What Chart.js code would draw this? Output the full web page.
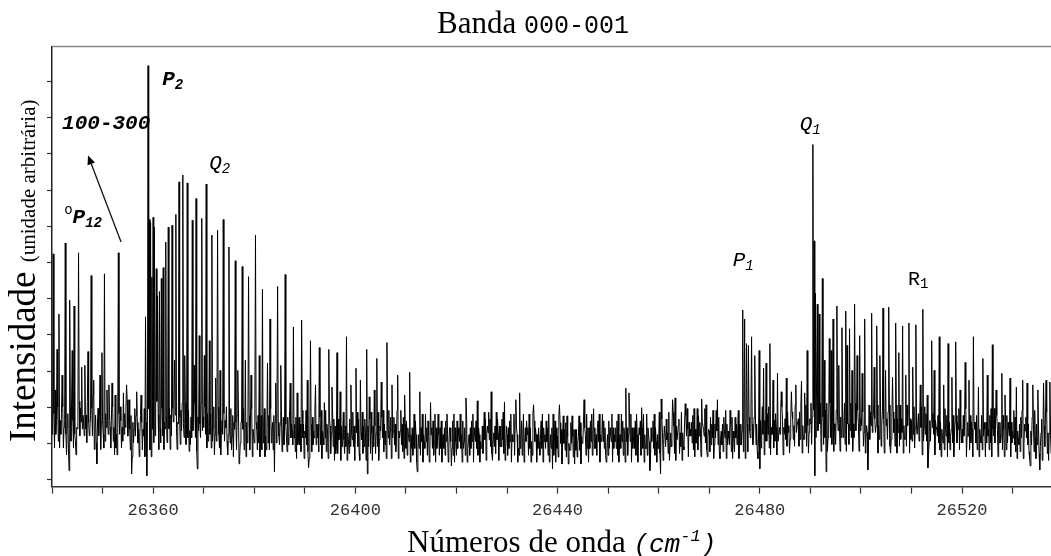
<!DOCTYPE html>
<html lang="pt">
<head>
<meta charset="UTF-8">
<title>Banda 000-001</title>
<script src="https://cdn.jsdelivr.net/npm/chart.js@4"></script>
<style>
  body { margin: 0; background: #fff; }
  #wrap { width: 1051px; height: 556px; }
</style>
</head>
<body>
<div id="wrap"><canvas id="spec" width="1051" height="556"></canvas></div>
<script>
// grade do espectro (cm-1)
const X0 = 26340;
const STEP = 0.125;
const X_MAX = 26537.6;

// ruido em torno da linha de base, um digito por ponto da grade (0..9)
const noiseDigits = [
  '4637254618 3526473825 6341572648 3956274315 4628375146',
  '5374628153 4627395146 2857364153 6428375164 3752648351',
  '6241537486 2536475819 4635274163 5847263514 7362548136',
  '3548627145 6273548361 5426738154 3625847163 4758362415',
  '5362748153 4825637142 6354728361 2647538146 5384627351',
  '4726358147 3658427156 4273658314 6538247165 3627485136',
  '6358247163 5472638154 3846527361 4725368142 5637248356',
  '2746538164 3658247351 6427358146 5384627153 4736258461',
  '5483627145 6273548136 4625738154 3748265137 6254837162',
  '3627458163 5842637154 2736548361 6458372145 4826375164',
  '6347285163 4625738146 5374826351 2648357164 5736248315',
  '4583627146 3726548153 6248375163 5372648154 3846275136',
  '5637248163 4852637145 3627485136 6453728164 2736548351',
  '7346258134 5263748165 4738265143 3625847156 5847362145',
  '3628475163 6374825136 5263748154 4827365132 6347258146',
  '4756283614 2837465153 6425738164 5374628135 3658247163',
  '5283746158 4637285143 3748526163 6245837154 4736528361',
  '6374825136 3526748154 5847362135 2736548163 5463728145',
  '3847265134 6253748163 4637285146 5724638153 3826547164',
  '5738264153 4826375146 6374528135 3548627164 4672538153',
  '2637485164 5463728153 3827465136 6548372145 5273648136',
  '4856372145 3627548163 5438627154 2746358163 6358247135',
  '6237548163 4758362145 3625847163 5374826154 4826375163',
  '3547286154 6382745136 4763528145 5627384153 3748265146',
  '5826374153 3647258164 6253748135 4837265154 2736485163',
  '4635827145 5274836153 3846275164 6537248135 4628375146',
  '7364528153 4825736145 5637482136 3746258164 5283647153',
  '3628574163 6374825154 4736258143 5847362136 3625748165',
  '5473826154 3628547163 6245837146 4736582153 5374628146',
  '4827365136 5637248154 3728465163 6452738145 4836275163',
  '6348275146 2736548163 5483726154 3627485136 5748362145',
  '3756284163 4628357146 6374825153 5283647164 4637258135'
].join('').replace(/ /g, '');

// nivel da linha de base, por blocos de 5 cm-1 a partir de X0
const baseline = [
  1.35, 1.5, 1.35, 1.3, 1.5, 1.45, 1.35, 1.3, 1.3, 1.25,
  1.25, 1.2, 1.2, 1.25, 1.15, 1.15, 1.15, 1.2, 1.15, 1.15,
  1.1, 1.15, 1.15, 1.15, 1.2, 1.3, 1.25, 1.25, 1.35, 1.4,
  1.45, 1.45, 1.4, 1.4, 1.35, 1.3, 1.3, 1.3, 1.25, 1.2, 1.2
];

// linhas do espectro: posicao (cm-1) e intensidade
const linePos = [
  // oP12
  26340.2, 26340.6, 26341.05, 26341.4, 26342.0, 26342.6, 26343.5, 26344.0, 26344.4, 26345.2,
  26345.9, 26346.5, 26347.1, 26347.7, 26348.3, 26348.9, 26349.5, 26349.9, 26350.4, 26350.9,
  26351.3, 26351.9, 26352.5, 26353.1, 26354.1, 26354.7, 26355.2, 26355.8, 26356.8, 26357.6,
  26358.2, 26358.5,
  // P2 / Q2
  26359.0, 26359.25, 26359.5, 26359.75, 26360.0, 26360.25, 26360.6, 26360.9, 26361.2, 26361.6,
  26362.0, 26362.5, 26363.0, 26363.7, 26364.2, 26364.5, 26365.1, 26365.9, 26366.3, 26366.7,
  26367.7, 26368.1, 26368.5, 26369.1, 26369.6, 26370.1, 26370.5, 26371.1, 26371.6, 26372.4,
  26372.7, 26373.3, 26373.9, 26375.0, 26376.2, 26376.8, 26377.6, 26378.2, 26378.9, 26379.4,
  26380.2, 26381.0, 26381.6, 26382.6, 26383.1, 26384.3, 26384.6, 26385.3, 26386.1, 26387.1,
  26387.7, 26388.5, 26389.4, 26390.5, 26391.1, 26392.1, 26392.9, 26393.9, 26394.7, 26395.4,
  26396.4, 26397.0, 26398.3, 26399.1, 26400.1, 26401.0, 26402.2, 26402.8, 26403.8, 26404.2,
  26405.1, 26406.2, 26407.3, 26408.4, 26409.7, 26410.8, 26412.7, 26414.9,
  // regiao sem bandas
  26421.9, 26424.1, 26426.9, 26429.5, 26431.8, 26432.5, 26435.2, 26440.4, 26445.3, 26447.1,
  26453.5, 26454.1, 26456.6, 26460.5, 26462.8, 26463.2, 26465.3, 26468.5, 26469.4, 26471.6,
  // P1
  26476.6, 26477.0, 26477.4, 26477.7, 26478.4, 26479.0, 26479.9, 26480.7, 26481.2, 26482.0,
  26482.6, 26483.5, 26484.3, 26485.3, 26486.3, 26487.1, 26488.3, 26488.9, 26489.4,
  // Q1 / R1
  26490.5, 26490.75, 26491.0, 26491.4, 26491.7, 26492.4, 26492.7, 26493.1, 26493.7, 26494.1,
  26494.5, 26495.3, 26495.6, 26496.2, 26497.0, 26497.2, 26497.8, 26498.2, 26498.8, 26499.2,
  26499.8, 26500.2, 26500.8, 26501.4, 26502.1, 26502.6, 26503.1, 26503.8, 26504.4, 26504.9,
  26505.5, 26506.3, 26506.9, 26507.5, 26508.2, 26508.9, 26509.5, 26510.3, 26510.9, 26511.7,
  26512.3, 26513.1, 26514.0, 26514.5, 26515.5, 26516.4, 26517.2, 26518.0, 26518.8, 26519.6,
  26520.6, 26521.4, 26522.2, 26523.2, 26524.1, 26525.0, 26526.0, 26526.7, 26527.9, 26528.5,
  26529.5, 26530.7, 26532.0, 26532.9, 26534.0, 26535.0, 26536.1, 26536.6, 26537.4
];
const lineInt = [
  6.24, 2.48, 3.60, 4.58, 2.89, 6.54, 4.96, 3.57, 4.80, 6.27,
  3.11, 3.16, 3.54, 5.64, 2.75, 2.67, 2.89, 3.51, 5.69, 2.48,
  2.62, 2.67, 2.34, 6.27, 2.40, 2.62, 2.21, 4.14, 2.43, 2.34,
  1.93, 4.50,
  11.44, 7.19, 7.11, 5.60, 7.25, 6.98, 5.83, 5.07, 5.20, 5.56,
  5.86, 6.57, 6.98, 7.03, 3.30, 7.33, 8.23, 8.42, 3.43, 8.20,
  7.17, 3.16, 7.77, 3.98, 7.22, 3.43, 8.17, 3.84, 6.76, 2.81,
  6.89, 3.02, 7.19, 6.43, 6.05, 3.02, 5.89, 3.30, 5.61, 2.89,
  6.76, 3.43, 5.26, 3.22, 4.44, 2.67, 5.34, 3.16, 5.67, 2.67,
  4.22, 2.40, 4.41, 2.75, 3.84, 2.62, 3.65, 2.13, 3.60, 2.56,
  3.51, 2.43, 3.95, 2.62, 3.08, 2.75, 3.60, 2.29, 2.48, 3.35,
  2.70, 3.79, 2.62, 2.89, 2.34, 2.97, 2.43, 2.13,
  2.26, 2.18, 2.43, 2.15, 2.21, 2.40, 2.07, 2.07, 2.21, 1.96,
  2.53, 2.40, 1.99, 2.23, 2.21, 2.26, 2.10, 2.23, 2.07, 2.21,
  4.69, 4.44, 3.76, 3.71, 3.95, 3.43, 3.57, 3.08, 3.22, 3.76,
  2.75, 2.94, 2.43, 2.81, 2.43, 2.62, 2.72, 2.40, 3.57,
  9.26, 6.60, 5.15, 4.85, 4.58, 5.56, 3.30, 4.28, 3.90, 3.57,
  4.44, 4.80, 3.16, 4.20, 4.66, 3.71, 4.17, 3.02, 4.85, 3.43,
  3.98, 2.94, 4.44, 3.57, 4.60, 3.11, 4.25, 3.43, 4.74, 3.02,
  4.77, 2.83, 4.33, 3.51, 4.25, 2.89, 4.33, 3.11, 4.28, 2.62,
  4.71, 2.34, 3.84, 3.02, 3.95, 2.62, 3.76, 2.83, 3.81, 2.48,
  3.24, 2.75, 3.95, 2.56, 3.35, 2.89, 3.73, 2.48, 2.94, 2.34,
  2.81, 2.56, 2.75, 2.67, 2.62, 2.48, 2.67, 2.75, 2.70
];

// vales mais fundos do ruido
const dipPos = [26343.4, 26348.9, 26355.8, 26358.75, 26368.7, 26377.0, 26384.0, 26390.7, 26402.4, 26412.3,
                26419.0, 26439.0, 26458.2, 26460.4, 26480.0, 26490.9, 26493.1, 26501.4, 26513.3, 26533.5, 26535.4];
const dipInt = [0.25, 0.44, 0.16, 0.11, 0.30, 0.44, 0.22, 0.33, 0.16, 0.22,
                0.38, 0.30, 0.25, 0.16, 0.30, 0.11, 0.22, 0.27, 0.33, 0.38, 0.27];

// eixos
const xTicks = [26340, 26350, 26360, 26370, 26380, 26390, 26400, 26410, 26420, 26430,
                26440, 26450, 26460, 26470, 26480, 26490, 26500, 26510, 26520, 26530];
const xLabels = [26360, 26400, 26440, 26480, 26520];
const yTicks = [0, 1, 2, 3, 4, 5, 6, 7, 8, 9, 10, 11];

// rotulos das bandas (posicao em cm-1 / intensidade)
const bandLabels = [
  { x: 26361.8, y: 10.9, parts: [['P', 'bi'], ['2', 'bisub']] },
  { x: 26342.0, y: 9.7,  parts: [['100-300', 'bi']] },
  { x: 26342.4, y: 7.08, parts: [['o', 'sup'], ['P', 'bi'], ['12', 'bisub']] },
  { x: 26371.1, y: 8.58, parts: [['Q', 'i'], ['2', 'isub']] },
  { x: 26474.65, y: 5.91, parts: [['P', 'i'], ['1', 'isub']] },
  { x: 26487.9, y: 9.65, parts: [['Q', 'i'], ['1', 'isub']] },
  { x: 26509.3, y: 5.37, parts: [['R', 'r'], ['1', 'rsub']] }
];
const arrowFrom = [26353.66, 6.57];
const arrowTo = [26347.13, 8.96];

const SERIF = '"Liberation Serif", "Times New Roman", serif';
const MONO = '"Liberation Mono", "Courier New", monospace';

// monta a serie: base + ruido, depois linhas e vales na grade
const points = [];
for (let i = 0; i < noiseDigits.length; i++) {
  const x = X0 + i * STEP;
  if (x > X_MAX + STEP) break;
  const b = baseline[Math.min(baseline.length - 1, Math.floor((x - X0) / 5))];
  points.push({ x: x, y: b + (Number(noiseDigits[i]) - 4.5) * 0.19 });
}
linePos.forEach((p, k) => {
  const i = Math.round((p - X0) / STEP);
  if (points[i]) points[i].y = Math.max(points[i].y, lineInt[k]);
});
dipPos.forEach((p, k) => {
  const i = Math.round((p - X0) / STEP);
  if (points[i]) points[i].y = Math.min(points[i].y, dipInt[k]);
});

const styles = {
  bi:    { font: 'italic bold 21px ' + MONO, dy: 0 },
  bisub: { font: 'italic bold 14px ' + MONO, dy: 4 },
  i:     { font: 'italic 21px ' + MONO, dy: 0 },
  isub:  { font: 'italic 14px ' + MONO, dy: 4 },
  r:     { font: '20px ' + MONO, dy: 0 },
  rsub:  { font: '14px ' + MONO, dy: 3 },
  sup:   { font: '14px ' + MONO, dy: -9 }
};

function drawParts(ctx, x, y, parts) {
  let cx = x;
  parts.forEach(([t, s]) => {
    ctx.font = s.font;
    ctx.fillText(t, cx, y + s.dy);
    cx += ctx.measureText(t).width;
  });
}

const textPlugin = {
  id: 'texts',
  afterDraw(chart) {
    const ctx = chart.ctx;
    const xs = chart.scales.x, ys = chart.scales.y;
    const area = chart.chartArea;
    ctx.save();
    ctx.fillStyle = '#000';
    ctx.textBaseline = 'alphabetic';
    ctx.textAlign = 'left';

    // moldura superior
    ctx.strokeStyle = '#888';
    ctx.lineWidth = 1.5;
    ctx.beginPath();
    ctx.moveTo(area.left, area.top);
    ctx.lineTo(area.right, area.top);
    ctx.stroke();

    // titulo
    drawParts(ctx, 437, 33, [
      ['Banda ', { font: '31px ' + SERIF, dy: 0 }],
      ['000-001', { font: '25px ' + MONO, dy: 0 }]
    ]);

    // titulo do eixo x
    drawParts(ctx, 407, 552, [
      ['Números de onda ', { font: '31px ' + SERIF, dy: 0 }],
      ['(cm', { font: 'italic 26px ' + MONO, dy: 0 }],
      ['-1', { font: 'italic 17px ' + MONO, dy: -11 }],
      [')', { font: 'italic 26px ' + MONO, dy: 0 }]
    ]);

    // titulo do eixo y
    ctx.save();
    ctx.translate(35, 442);
    ctx.rotate(-Math.PI / 2);
    drawParts(ctx, 0, 0, [
      ['Intensidade ', { font: '37px ' + SERIF, dy: 0 }],
      ['(unidade arbitrária)', { font: '21px ' + SERIF, dy: 0 }]
    ]);
    ctx.restore();

    // rotulos das bandas
    bandLabels.forEach(l => {
      drawParts(ctx, xs.getPixelForValue(l.x), ys.getPixelForValue(l.y),
        l.parts.map(([t, k]) => [t, styles[k]]));
    });

    // seta
    const x1 = xs.getPixelForValue(arrowFrom[0]), y1 = ys.getPixelForValue(arrowFrom[1]);
    const x2 = xs.getPixelForValue(arrowTo[0]), y2 = ys.getPixelForValue(arrowTo[1]);
    const a = Math.atan2(y2 - y1, x2 - x1);
    ctx.strokeStyle = '#111';
    ctx.lineWidth = 1.3;
    ctx.beginPath();
    ctx.moveTo(x1, y1);
    ctx.lineTo(x2 - 6 * Math.cos(a), y2 - 6 * Math.sin(a));
    ctx.stroke();
    ctx.beginPath();
    ctx.moveTo(x2, y2);
    ctx.lineTo(x2 - 9 * Math.cos(a) + 4 * Math.sin(a), y2 - 9 * Math.sin(a) - 4 * Math.cos(a));
    ctx.lineTo(x2 - 9 * Math.cos(a) - 4 * Math.sin(a), y2 - 9 * Math.sin(a) + 4 * Math.cos(a));
    ctx.closePath();
    ctx.fill();
    ctx.restore();
  }
};

new Chart(document.getElementById('spec'), {
  type: 'line',
  data: {
    datasets: [{
      data: points,
      borderColor: '#000',
      borderWidth: 1,
      pointRadius: 0,
      tension: 0,
      fill: false
    }]
  },
  options: {
    responsive: false,
    animation: false,
    parsing: false,
    events: [],
    layout: { padding: { left: 47, top: 46.5, right: 0, bottom: 28 } },
    plugins: {
      legend: { display: false },
      tooltip: { enabled: false },
      title: { display: false }
    },
    scales: {
      x: {
        type: 'linear',
        min: X0,
        max: X_MAX,
        afterBuildTicks: s => { s.ticks = xTicks.map(v => ({ value: v })); },
        ticks: {
          autoSkip: false,
          maxRotation: 0,
          padding: 7,
          color: '#333',
          font: { family: MONO, size: 17 },
          callback: v => xLabels.includes(v) ? String(v) : ''
        },
        grid: { drawOnChartArea: false, tickLength: 7, color: '#333', tickWidth: 1.2 },
        border: { color: '#333', width: 1.5 }
      },
      y: {
        type: 'linear',
        min: -0.19,
        max: 11.97,
        afterBuildTicks: s => { s.ticks = yTicks.map(v => ({ value: v })); },
        ticks: { display: false },
        grid: { drawOnChartArea: false, tickLength: 5, color: '#333', tickWidth: 1.2 },
        border: { color: '#222', width: 1.5 }
      }
    }
  },
  plugins: [textPlugin]
});
</script>
</body>
</html>
